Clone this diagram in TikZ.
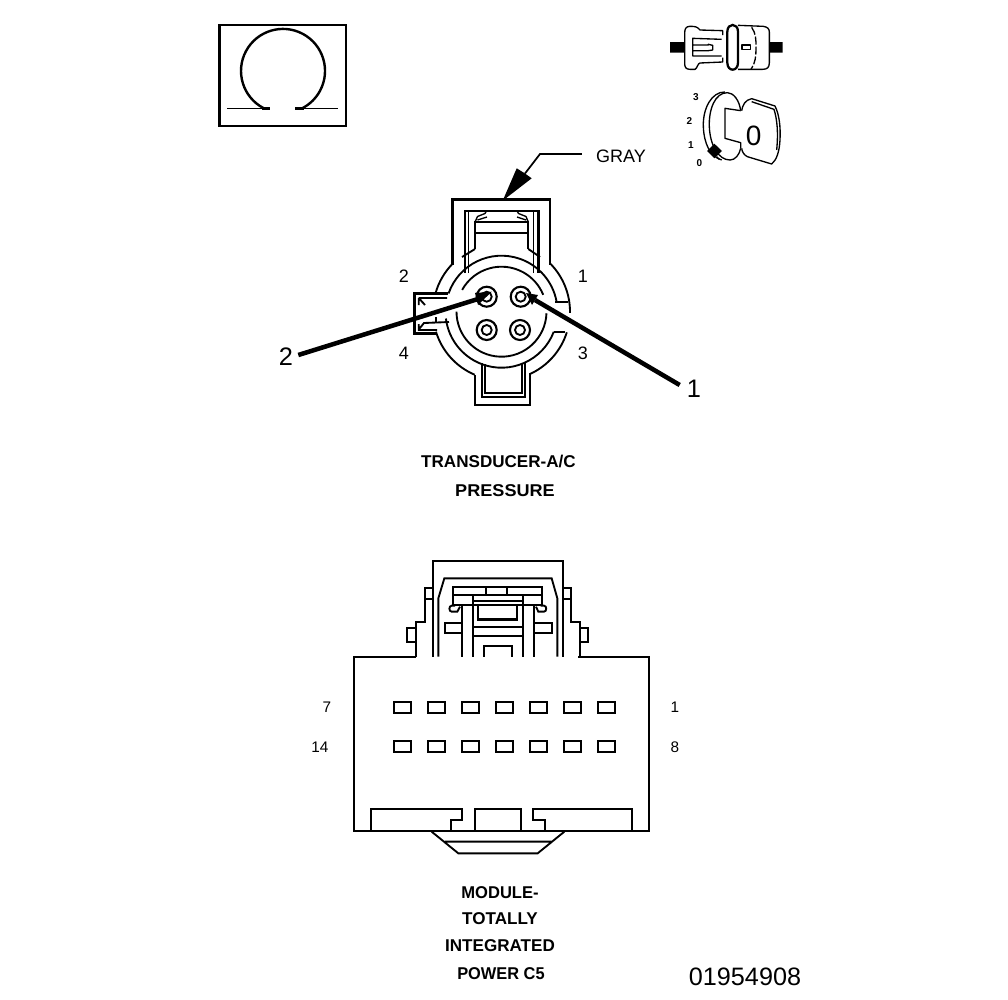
\documentclass[tikz,border=0pt]{standalone}
\usepackage{fontspec}
\setmainfont{Liberation Sans}
\tikzset{
  thickline/.style={line width=2.1pt,line cap=butt,line join=miter},
  midline/.style={line width=1.4pt,line join=miter},
  thinline/.style={line width=1pt,line join=round},
  lbl/.style={inner sep=0pt,font=\fontsize{13.5}{15}\selectfont},
  biglbl/.style={inner sep=0pt,font=\fontsize{19}{22}\selectfont},
  pinlbl/.style={inner sep=0pt,font=\fontsize{11.5}{14}\selectfont},
  caption/.style={inner sep=0pt,font=\bfseries\fontsize{12.8}{15}\selectfont},
  dial/.style={inner sep=0pt,font=\bfseries\fontsize{7.5}{9}\selectfont},
}
\begin{document}
\begin{tikzpicture}[x=.75pt,y=-.75pt]
\useasboundingbox (0,0) rectangle (1008,1000);
\fill[white] (0,0) rectangle (1008,1000);

% --- Ohm symbol box
\draw[line width=1.8pt] (219.5,25) rectangle (346,126);
\draw[line width=1.8pt] (263.3,108) arc (118:422:42);
\draw[thinline] (227,108.5) -- (262,108.5) (304,108.5) -- (338,108.5);
\draw[line width=2pt] (262,108.3) -- (270,108.3) (295,108.3) -- (304,108.3);

% --- plug icon (zoom 2 coordinates)
\begin{scope}[shift={(650,20)},x=.25pt,y=-.25pt]
  \fill (60,66) rectangle (103,98) (358,66) rectangle (398,98);
  \draw[thinline] (218,45) -- (218,32) -- (150,30) .. controls (142,20) and (135,19) .. (120,19) .. controls (108,19) and (104,26) .. (104,40) -- (104,130) .. controls (104,142) and (108,148) .. (120,148) -- (135,148) .. controls (142,145) and (143,130) .. (150,129) -- (218,126) -- (218,113);
  \draw[thinline] (215,58) -- (128,55) -- (128,108) -- (215,108) (128,75) -- (175,75) -- (175,73) -- (188,76) -- (188,90) -- (175,92) -- (128,92);
  \draw[line width=1.7pt] (232,35) .. controls (232,8) and (264,8) .. (264,35) -- (264,128) .. controls (264,156) and (232,156) .. (232,128) -- cycle;
  \draw[thinline] (264,16) -- (340,19) .. controls (352,21) and (358,26) .. (358,36) -- (358,128) .. controls (358,142) and (352,148) .. (338,148) -- (264,148);
  \draw[thinline,dash pattern=on 6pt off 1.5pt] (305,22) .. controls (318,40) and (318,60) .. (318,80) .. controls (318,110) and (316,130) .. (303,148);
  \draw[thinline] (276,75) rectangle (302,88);
  % key icon
  \draw[thinline] (225,216) .. controls (185,215) and (158,265) .. (160,320) .. controls (162,370) and (180,410) .. (215,420);
  \draw[thinline] (272,272) .. controls (268,240) and (250,218) .. (232,218) .. controls (195,218) and (176,268) .. (178,320) .. controls (180,375) and (205,420) .. (240,420) .. controls (255,420) and (268,405) .. (272,385);
  \draw[thinline] (272,272) -- (225,265) -- (225,355) -- (272,368) -- (272,385);
  \draw[thinline] (275,272) .. controls (278,255) and (285,240) .. (305,236) -- (375,258) .. controls (388,285) and (392,320) .. (390,360) .. controls (388,395) and (380,420) .. (365,432) -- (292,410) .. controls (282,405) and (276,395) .. (275,385);
  \draw[thinline] (305,245) -- (372,268) .. controls (382,300) and (385,340) .. (380,390);
  \fill (193,371) -- (216,393) -- (193,415) -- (171,393) -- cycle;
  \draw[thinline] (200,410) -- (208,418);
  \node[inner sep=0pt,font=\fontsize{21}{24}\selectfont] (keyzero) at (311,347) {0};
  \node[dial] (d3) at (138,232) {3};
  \node[dial] (d2) at (118,302) {2};
  \node[dial] (d1) at (123,375) {1};
  \node[dial] (d0) at (148,430) {0};
\end{scope}

% --- transducer connector: leader
\node[lbl] (gray) at (621,156) {GRAY};
\coordinate (graybend) at (540,154);
\coordinate (graytip) at (502.7,200.7);
\coordinate (graybase) at (525,173.5);
\draw[line width=1.3pt] (gray.west) ++(-14,-2) -- (graybend) -- (graybase);
\fill (graytip) -- (516.7,168.3) -- (525,173.5) -- (531.7,178.3) -- cycle;

% frames
\draw[thickline] (452.7,265) -- (452.7,199.5) -- (550,199.5) -- (550,265);
\draw[thickline] (465,273) -- (465,211) -- (538.3,211) -- (538.3,273);
\draw[midline] (468.5,273) -- (468.5,211) (533.5,273) -- (533.5,211);
\draw[midline] (475,249) -- (475,222) -- (528.3,222) -- (528.3,249);
\draw[midline] (475,232.7) -- (528.3,232.7);
\draw[midline] (475,249) -- (462,257) (528.3,249) -- (540,257);
\draw[thinline] (475,222) -- (477.5,216.5) -- (485,213.5) -- (486.5,211) (477.5,220) -- (487,217);
\draw[thinline] (528.3,222) -- (526,216.5) -- (518.5,213.5) -- (517,211) (526,220) -- (517,217);

% circular body arcs
\foreach \a/\b/\r in {196/224/68.5,315/361/68.5,17.5/65/68.5,113/163/68.5,199/349.4/56,21/173/56,209/338/45,2/180/45}{
  \draw[midline] (501.5,311.7) ++(\a:\r) arc (\a:\b:\r);
}
\draw[midline] (555,302) -- (568,302) (554,332) -- (565,332);

% left tab
\draw[thickline] (448,293.5) -- (414.8,293.5) -- (414.8,333.5) -- (437,333.5);
\draw[midline] (418.7,298) -- (447,298) (418.7,298) -- (418.7,305) (418.7,298) -- (425,305);
\draw[midline] (418.7,329.5) -- (424,323) -- (449,322) (418.7,324) -- (418.7,330) -- (437,330) (436,317) -- (436,322);

% bottom tab
\draw[midline] (475,375) -- (475,405) -- (530,405) -- (530,373);
\draw[midline,line width=1.7pt] (481.7,363) -- (481.7,396.7) -- (525,396.7) -- (525,363);
\draw[midline] (485,364) -- (485,393.3) -- (521.7,393.3) -- (521.7,364);

% pins
\foreach \x/\y in {486.7/296.7,520.7/296.7,486.7/330,520/330}{
  \draw[line width=1.6pt] (\x,\y) circle (10);
  \draw[midline] (\x,\y) circle (5);
}

% labels and call-out arrows
\node[lbl] (p2) at (404,276) {2};
\node[lbl] (p1) at (583,276) {1};
\node[lbl] (p4) at (404,353) {4};
\node[lbl] (p3) at (583,353) {3};
\node[biglbl] (big2) at (286,357) {2};
\node[biglbl] (big1) at (694,389) {1};
\coordinate (tip2) at (491.7,291.7);
\coordinate (tip1) at (526,293);
\draw[line width=3.4pt] (big2.east) ++(5,-2) -- (478,299);
\draw[line width=3.4pt] (big1.west) ++(-7,-4) -- (535,300);
\fill (tip2) -- (475,293) -- (478,305) -- cycle;
\fill (tip1) -- (538,295) -- (532,305) -- cycle;

\node[caption] (t1) at (498.5,461) {TRANSDUCER-A/C};
\node[caption,xscale=1.06] (t2) at (505,490.5) {PRESSURE};

% --- lower connector
\draw[line width=1.7pt] (416,656.7) -- (354,656.7) -- (354,831) -- (649,831) -- (649,656.7) -- (578,656.7);
\begin{scope}[shift={(400,550)},x=.25pt,y=-.25pt]
  \draw[line width=1.7pt] (100,320) -- (100,33) -- (490,33) -- (490,320);
  \draw[midline] (100,115) -- (75,115) -- (75,215) -- (48,215) -- (48,320) (75,148) -- (100,148);
  \draw[midline] (48,235) -- (22,235) -- (22,275) -- (48,275);
  \draw[midline] (490,115) -- (513,115) -- (513,215) -- (540,215) -- (540,320) (490,148) -- (513,148);
  \draw[midline] (540,235) -- (565,235) -- (565,275) -- (540,275);
  \draw[midline] (115,320) -- (115,145) -- (133,85) -- (455,85) -- (472,145) -- (472,320);
  \draw[line width=1.7pt] (160,112) rectangle (427,165);
  \draw[midline] (160,135) -- (427,135) (258,112) -- (258,135) (320,112) -- (320,135);
  \draw[midline] (165,167) -- (155,167) .. controls (146,167) and (146,185) .. (155,185) -- (172,185) -- (180,170);
  \draw[midline] (422,167) -- (432,167) .. controls (441,167) and (441,185) .. (432,185) -- (415,185) -- (408,170);
  \draw[line width=1.7pt] (185,165) -- (185,320) (218,135) -- (218,320) (370,135) -- (370,320) (403,165) -- (403,320);
  \draw[midline] (185,218) -- (135,218) -- (135,250) -- (185,250);
  \draw[midline] (403,218) -- (455,218) -- (455,250) -- (403,250);
  \draw[midline] (218,152) -- (370,152) (235,165) -- (235,212) (352,165) -- (352,212);
  \draw[line width=1.9pt] (235,208) -- (352,208);
  \draw[midline] (218,232) -- (370,232) (218,258) -- (370,258);
  \draw[midline] (252,320) -- (252,288) -- (335,288) -- (335,320);
\end{scope}
\foreach \x in {402,436,470,504,538,572,606}{
  \foreach \y in {707,746}{
    \draw[line width=1.5pt] (\x-8.5,\y-5.5) rectangle (\x+8.5,\y+5.5);
  }
}
\node[pinlbl] (c7) at (327,707) {7};
\node[pinlbl] (c14) at (320,747) {14};
\node[pinlbl] (c1) at (675,707) {1};
\node[pinlbl] (c8) at (675,747) {8};
\begin{scope}[shift={(345,790)},x=.25pt,y=-.25pt]
  \draw[midline] (78,122) -- (78,58) -- (352,58) -- (352,90) -- (318,90) -- (318,122);
  \draw[midline] (390,122) -- (390,58) -- (528,58) -- (528,122);
  \draw[midline] (860,122) -- (860,58) -- (565,58) -- (565,90) -- (600,90) -- (600,122);
  \draw[midline] (260,125) -- (340,190) -- (578,190) -- (658,125) (300,155) -- (618,155);
\end{scope}
\node[caption,xscale=.97] (m1) at (500,892.5) {MODULE-};
\node[caption] (m2) at (500,918.5) {TOTALLY};
\node[caption] (m3) at (500,946) {INTEGRATED};
\node[caption,xscale=.96] (m4) at (501,973.5) {POWER C5};
\node[inner sep=0pt,font=\fontsize{18.9}{22}\selectfont] (code) at (745,977) {01954908};
\end{tikzpicture}
\end{document}
